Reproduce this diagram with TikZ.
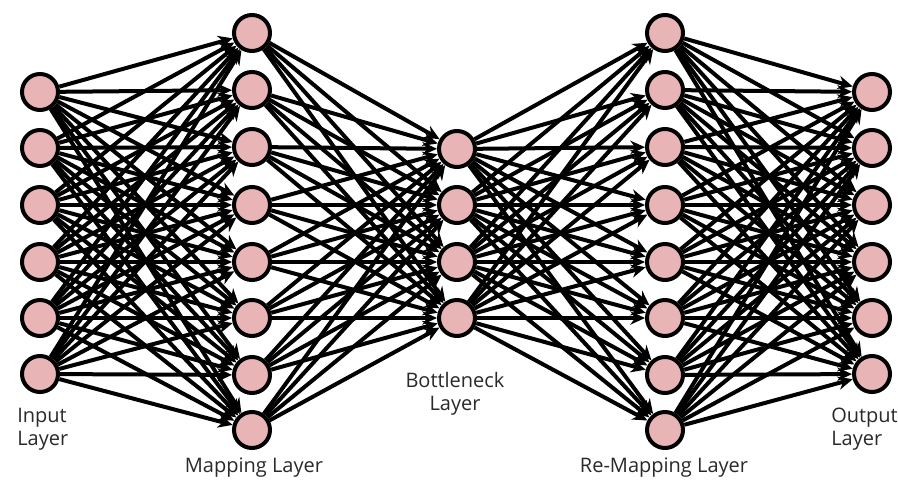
\documentclass[tikz,border=0pt]{standalone}
\usepackage{fontspec}
\setmainfont{Open Sans}
\usetikzlibrary{arrows.meta}
\definecolor{neuron}{HTML}{E8B4B6}
\definecolor{txt}{HTML}{2A2A2A}
\tikzset{
  neuron/.style={circle, draw=black, line width=3pt, fill=neuron, minimum size=27pt, inner sep=0pt},
  conn/.style={line width=3pt, -{Stealth[length=11pt,width=10pt]}, shorten >=0pt},
  lbl/.style={text=txt, font=\fontsize{15pt}{17pt}\selectfont, align=center, inner sep=0pt}
}
\begin{document}
\begin{tikzpicture}[x=0.75pt,y=-0.75pt]
\useasboundingbox (0,0) rectangle (898,491);
\fill[white] (0,0) rectangle (898,491);
% nodes
\foreach \k/\yy in {1/92,2/148,3/205,4/262,5/318,6/374} {
  \node[neuron] (i\k) at (40,\yy) {};
  \node[neuron] (o\k) at (872,\yy) {};
}
\foreach \k/\yy in {1/33,2/90,3/147,4/205,5/262,6/318,7/375,8/430} {
  \node[neuron] (m\k) at (252,\yy) {};
  \node[neuron] (r\k) at (665,\yy) {};
}
\foreach \k/\yy in {1/149,2/205,3/262,4/318} {
  \node[neuron] (b\k) at (457,\yy) {};
}
% connections
\foreach \a in {1,...,6} \foreach \b in {1,...,8} \draw[conn] (i\a) -- (m\b);
\foreach \a in {1,...,8} \foreach \b in {1,...,4} \draw[conn] (m\a) -- (b\b);
\foreach \a in {1,...,4} \foreach \b in {1,...,8} \draw[conn] (b\a) -- (r\b);
\foreach \a in {1,...,8} \foreach \b in {1,...,6} \draw[conn] (r\a) -- (o\b);
% labels
\node[lbl, align=left, anchor=north west] (li) at (17,408) {Input\\Layer};
\node[lbl, anchor=north] (lm) at (254,458) {Mapping Layer};
\node[lbl, anchor=north] (lb) at (455,372) {Bottleneck\\Layer};
\node[lbl, anchor=north] (lr) at (664,458) {Re-Mapping Layer};
\node[lbl, align=left, anchor=north west] (lo) at (831,408) {Output\\Layer};
\end{tikzpicture}
\end{document}
